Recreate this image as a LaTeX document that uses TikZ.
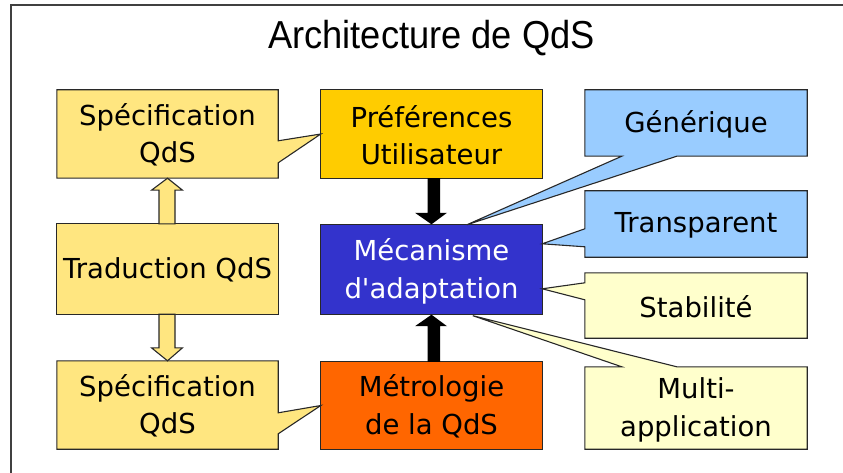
\documentclass[tikz,border=0pt]{standalone}
\usepackage{fontspec}
\setmainfont{DejaVu Sans}
\newfontfamily\titlefont[FakeStretch=0.93]{Liberation Sans}
\usetikzlibrary{calc}

\definecolor{specY}{RGB}{255,230,128}
\definecolor{prefY}{RGB}{255,204,0}
\definecolor{mecaB}{RGB}{51,51,204}
\definecolor{metroO}{RGB}{255,102,0}
\definecolor{propB}{RGB}{153,204,255}
\definecolor{propY}{RGB}{255,255,204}
\definecolor{edge}{RGB}{40,40,40}

\tikzset{
  box/.style={inner sep=0pt, minimum width=221pt, align=center,
              font=\fontsize{27.5}{37.5}\selectfont},
  outline/.style={draw=edge, line width=1.1pt, line join=miter},
  yarrow/.style={outline, fill=specY},
  karrow/.style={fill=black},
}

\begin{document}
\begin{tikzpicture}[x=1pt, y=-1pt]
  \useasboundingbox (0,0) rectangle (843,473);
  % page frame
  \draw[gray!50!black, line width=1.5pt] (11,473) -- (11,5) -- (843,5);

  \node[anchor=base, font=\titlefont\fontsize{39}{42}\selectfont] (title) at (431.5,49) {Architecture de QdS};

  % text nodes
  \node[box, minimum height=88pt] (sp1) at (167.5,134) {};
  \node[box, minimum height=90pt] (trad) at (167.5,269) {};
  \node[box, minimum height=88pt] (sp2) at (167.5,405) {};
  \node[box, minimum height=88pt] (pref) at (431.5,134) {};
  \node[box, minimum height=89pt] (meca) at (431.5,269.5) {};
  \node[box, minimum height=87pt] (metro) at (431.5,405.5) {};
  \node[box, minimum width=222pt, minimum height=66pt] (gen) at (696,123) {};
  \node[box, minimum width=222pt, minimum height=66pt] (trans) at (696,224) {};
  \node[box, minimum width=222pt, minimum height=65pt] (stab) at (696,305.5) {};
  \node[box, minimum width=222pt, minimum height=82pt] (multi) at (696,408) {};

  % plain boxes
  \draw[outline, fill=prefY] (pref.north west) rectangle (pref.south east);
  \draw[outline, fill=mecaB] (meca.north west) rectangle (meca.south east);
  \draw[outline, fill=metroO] (metro.north west) rectangle (metro.south east);
  \draw[outline, fill=specY] (trad.north west) rectangle (trad.south east);

  % callouts
  \draw[outline, fill=specY] (sp1.north west) -- (sp1.north east)
    -- ($(sp1.north east)+(0,51)$) -- (pref.west) -- ($(sp1.north east)+(0,73)$)
    -- (sp1.south east) -- (sp1.south west) -- cycle;
  \draw[outline, fill=specY] (sp2.north west) -- (sp2.north east)
    -- ($(sp2.north east)+(0,52)$) -- (metro.west) -- ($(sp2.north east)+(0,73)$)
    -- (sp2.south east) -- (sp2.south west) -- cycle;
  \draw[outline, fill=propB] (gen.north west) -- (gen.north east) -- (gen.south east)
    -- ($(gen.south west)+(92,0)$) -- ($(meca.north west)+(146,0)$) -- ($(gen.south west)+(37,0)$)
    -- (gen.south west) -- cycle;
  \draw[outline, fill=propB] (trans.north west) -- (trans.north east) -- (trans.south east)
    -- (trans.south west) -- ($(trans.north west)+(0,56)$) -- ($(meca.north east)+(0,19)$)
    -- ($(trans.north west)+(0,38)$) -- cycle;
  \draw[outline, fill=propY] (stab.north west) -- (stab.north east) -- (stab.south east)
    -- (stab.south west) -- ($(stab.north west)+(0,27)$) -- ($(meca.north east)+(0,64)$)
    -- ($(stab.north west)+(0,10)$) -- cycle;
  \draw[outline, fill=propY] (multi.north west) -- ($(multi.north west)+(37,0)$)
    -- ($(meca.south west)+(152,1.5)$) -- ($(multi.north west)+(92,0)$)
    -- (multi.north east) -- (multi.south east) -- (multi.south west) -- cycle;

  % block arrows
  \draw[yarrow] ($(trad.north)+(-8.5,0)$) -- ($(sp1.south)+(-8.5,12)$) -- ($(sp1.south)+(-16,12)$)
    -- (sp1.south) -- ($(sp1.south)+(15,12)$) -- ($(sp1.south)+(7.5,12)$) -- ($(trad.north)+(7.5,0)$) -- cycle;
  \draw[yarrow] ($(trad.south)+(-8.5,0)$) -- ($(sp2.north)+(-8.5,-13)$) -- ($(sp2.north)+(-16,-13)$)
    -- (sp2.north) -- ($(sp2.north)+(15,-13)$) -- ($(sp2.north)+(7.5,-13)$) -- ($(trad.south)+(7.5,0)$) -- cycle;
  \fill[karrow] ($(pref.south)+(-4,0)$) -- ($(meca.north)+(-4,-12)$) -- ($(meca.north)+(-16.5,-12)$)
    -- ($(meca.north)+(0,-0.5)$) -- ($(meca.north)+(15.5,-12)$) -- ($(meca.north)+(8.5,-12)$) -- ($(pref.south)+(8.5,0)$) -- cycle;
  \fill[karrow] ($(metro.north)+(-4,0)$) -- ($(meca.south)+(-4,12)$) -- ($(meca.south)+(-16.5,12)$)
    -- ($(meca.south)+(0,0.5)$) -- ($(meca.south)+(15.5,12)$) -- ($(meca.south)+(8.5,12)$) -- ($(metro.north)+(8.5,0)$) -- cycle;

  % labels
  \node[box] at ($(sp1)+(0,1)$) {Spécification\\QdS};
  \node[box] at ($(trad)+(0,1)$) {Traduction QdS};
  \node[box] at ($(sp2)+(0,1)$) {Spécification\\QdS};
  \node[box] at ($(pref)+(0,1)$) {Préférences\\Utilisateur};
  \node[box, text=white] at ($(meca)+(0,2)$) {Mécanisme\\d\textquotesingle adaptation};
  \node[box] at ($(metro)+(0,1)$) {Métrologie\\de la QdS};
  \node[box] at ($(gen)+(0,1)$) {Générique};
  \node[box] at ($(trans)+(0,1)$) {Transparent};
  \node[box] at ($(stab)+(0,1)$) {Stabilité};
  \node[box] at ($(multi)+(0,2)$) {Multi-\\application};
\end{tikzpicture}
\end{document}
